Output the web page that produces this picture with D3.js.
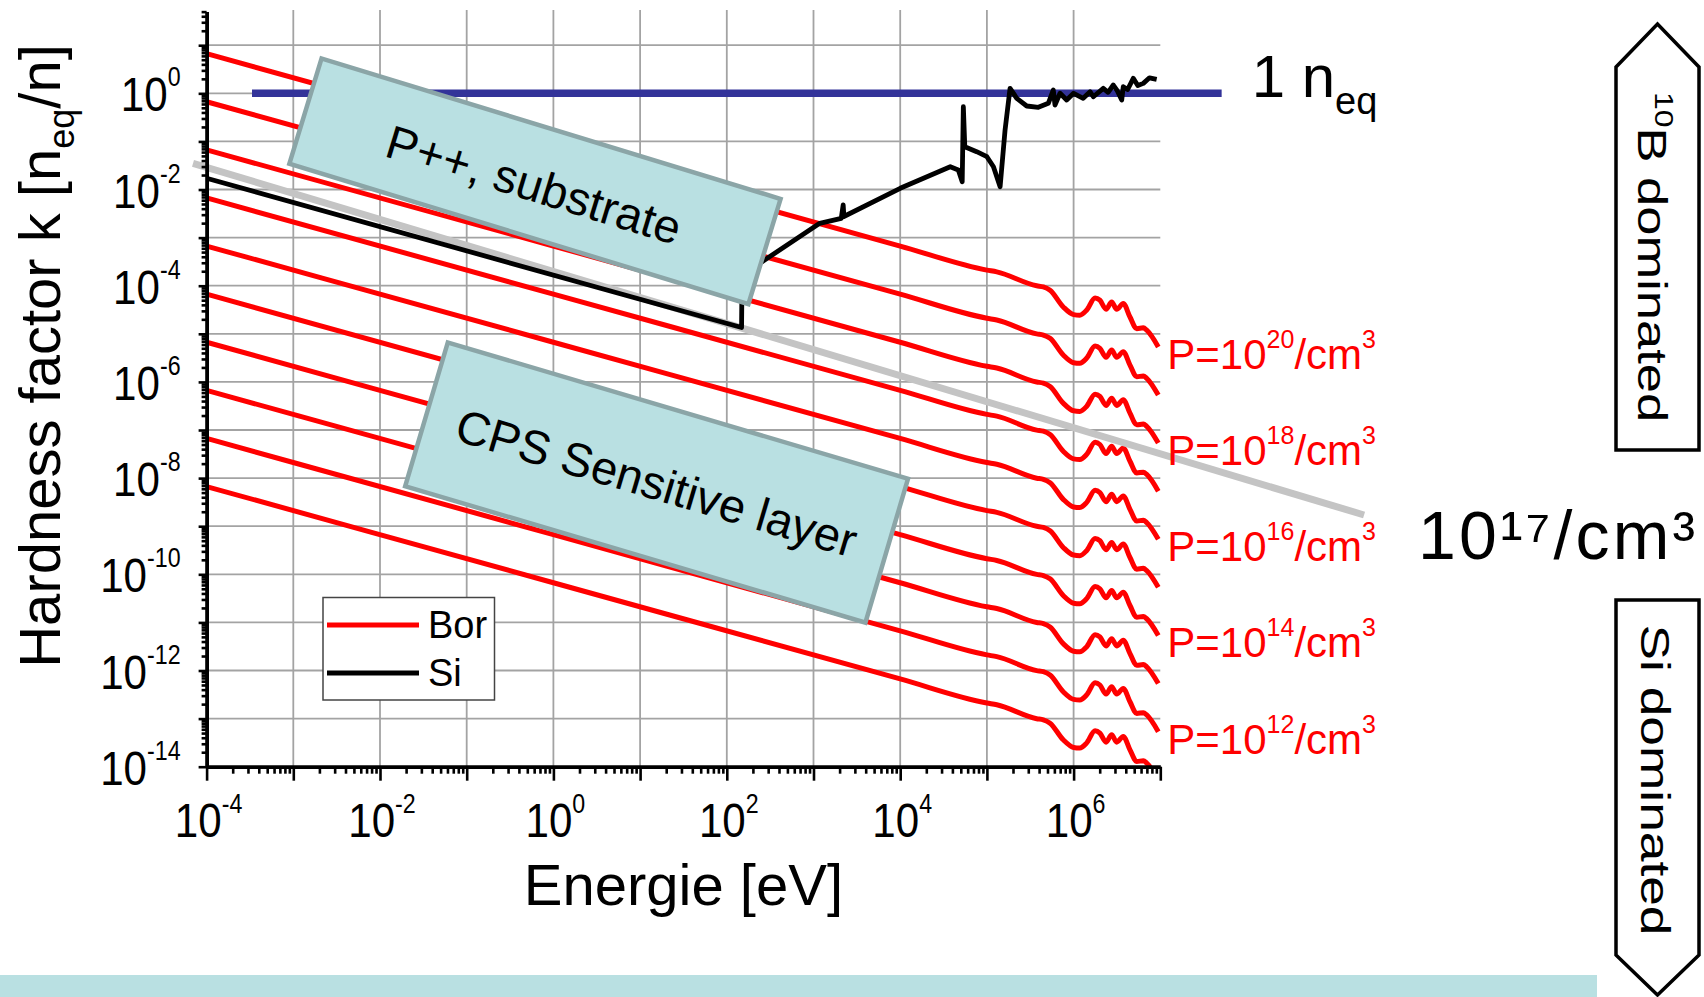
<!DOCTYPE html>
<html>
<head>
<meta charset="utf-8">
<script src="https://cdn.jsdelivr.net/npm/d3@7"></script>
<style>
  html, body { margin: 0; padding: 0; background: #fff; }
  svg { display: block; font-family: "Liberation Sans", Arial, Helvetica, sans-serif; }
</style>
</head>
<body>
<svg id="chart" width="1704" height="997"></svg>
<script>
// ---- data -------------------------------------------------------------
// Energy grid (eV) of the boron capture hardness-factor curve
const borEnergy = [1e-4, 1, 1e4, 1e5, 1.3e5, 3.75e5, 4.48e5, 5.35e5, 7.6e5, 1e6, 1.18e6,
  1.41e6, 1.77e6, 2.01e6, 2.37e6, 2.75e6, 3.14e6, 3.74e6, 4.47e6, 5.35e6, 6.37e6, 6.97e6, 9.48e6];
// Hardness factor k [n_eq/n] for a boron concentration of 1e20 /cm3
const borK20 = [6.68, 6.68e-2, 6.68e-4, 2.11e-4, 1.94e-4, 9.95e-5, 9.44e-5, 8.05e-5, 3.62e-5,
  2.51e-5, 2.44e-5, 3.09e-5, 5.57e-5, 5.0e-5, 3.24e-5, 4.6e-5, 3.24e-5, 4.25e-5, 2.24e-5,
  1.28e-5, 1.33e-5, 1.19e-5, 5.35e-6];
// Boron concentrations (/cm3); k scales linearly with the concentration
const borDoping = [1e20, 1e19, 1e18, 1e17, 1e16, 1e15, 1e14, 1e13, 1e12, 1e11];
const labelledDoping = [1e20, 1e18, 1e16, 1e14, 1e12];

// Silicon displacement hardness factor
const siEnergy = [1e-4, 148, 150, 273, 1.18e3, 2.09e3, 2.2e3, 2.24e3, 1e4, 3.78e4, 4.68e4,
  5.19e4, 5.35e4, 5.56e4, 7.62e4, 1.0e5, 1.19e5, 1.42e5, 1.62e5, 1.85e5, 2.21e5, 2.88e5,
  3.92e5, 5.11e5, 5.83e5, 6.1e5, 6.97e5, 8.32e5, 1e6, 1.29e6, 1.55e6, 1.69e6, 2.2e6,
  2.5e6, 2.87e6, 3.2e6, 3.59e6, 3.74e6, 4.2e6, 4.88e6, 5.5e6, 6.37e6, 7.5e6, 9.08e6];
const siK = [0.0171, 1.35e-5, 1.66e-4, 3.42e-4, 1.98e-3, 2.51e-3, 4.79e-3, 2.75e-3, 1.06e-2,
  2.98e-2, 2.54e-2, 1.45e-2, 0.526, 7.76e-2, 6.11e-2, 4.81e-2, 2.98e-2, 1.14e-2, 0.173,
  1.27, 0.787, 0.545, 0.512, 0.619, 1.17, 0.571, 1.0, 0.726, 1.0, 0.787, 1.08, 0.849,
  1.27, 1.05, 1.49, 1.12, 0.726, 1.37, 1.2, 2.05, 1.45, 1.61, 2.1, 1.95];

// Reference level of 1 n_eq
const neqLevel = 1;
const neqEnergy = [3.34e-4, 5.1e7];

// Boundary between boron- and silicon-dominated damage (10^17 /cm3)
const splitEnergy = [6.97e-5, 2.24e9];
const splitK = [0.0351, 1.71e-9];

// Axis tick exponents
const xTickExp = [-4, -2, 0, 2, 4, 6];
const yTickExp = [-14, -12, -10, -8, -6, -4, -2, 0];

// Region annotations placed at (energy, k)
const regionBoxes = [
  { text: "P++, substrate", E: 0.613, k: 0.0148, w: 480, h: 110, angle: 17, dy: 20 },
  { text: "CPS Sensitive layer", E: 15.5, k: 8.1e-9, w: 480, h: 150, angle: 16.5, dy: 17 }
];

// ---- layout -----------------------------------------------------------
const svg = d3.select("#chart");
const plotL = 206.6, plotR = 1160.3, plotT = 11.6, plotB = 766.7;
const font = '"Liberation Sans", Arial, Helvetica, sans-serif';

const x = d3.scaleLog().domain([1e-4, 1e7]).range([plotL, plotR]);
const y = d3.scaleLog().domain([1e-14, 50]).range([plotB, plotT]);

const RED = "#ff0000", GRID = "#a3a3a3";

// slide footer band
svg.append("rect").attr("x", 0).attr("y", 975).attr("width", 1597).attr("height", 22)
  .attr("fill", "#b9e0e2");

// ---- grid -------------------------------------------------------------
const gridX = d3.range(-3, 7).map(e => Math.pow(10, e));
const gridY = d3.range(-13, 2).map(e => Math.pow(10, e));
const grid = svg.append("g").attr("stroke", GRID).attr("stroke-width", 1.8);
grid.selectAll("line.gx").data(gridX).join("line").attr("class", "gx")
  .attr("x1", d => x(d)).attr("x2", d => x(d)).attr("y1", plotT - 1.5).attr("y2", plotB);
grid.selectAll("line.gy").data(gridY).join("line").attr("class", "gy")
  .attr("x1", plotL).attr("x2", plotR).attr("y1", d => y(d)).attr("y2", d => y(d));

// ---- curves -----------------------------------------------------------
svg.append("clipPath").attr("id", "plotClip").append("rect")
  .attr("x", plotL).attr("y", 0).attr("width", plotR - plotL + 2).attr("height", plotB);

const smooth = d3.line().x(d => x(d[0])).y(d => y(d[1])).curve(d3.curveMonotoneX);
const straight = d3.line().x(d => x(d[0])).y(d => y(d[1]));

const borSeries = borDoping.map(P => ({
  P,
  pts: borEnergy.map((E, i) => [E, borK20[i] * P / 1e20])
}));

svg.append("g").attr("clip-path", "url(#plotClip)")
  .selectAll("path").data(borSeries).join("path")
  .attr("d", d => smooth(d.pts))
  .attr("fill", "none").attr("stroke", RED).attr("stroke-width", 5)
  .attr("stroke-linejoin", "round");

// 10^17 boundary line
svg.append("path")
  .attr("d", straight(splitEnergy.map((E, i) => [E, splitK[i]])))
  .attr("stroke", "#c4c4c4").attr("stroke-width", 7).attr("fill", "none");

// 1 n_eq level
svg.append("path")
  .attr("d", straight(neqEnergy.map(E => [E, neqLevel])))
  .attr("stroke", "#333399").attr("stroke-width", 7.5).attr("fill", "none");

// silicon curve
svg.append("path")
  .attr("d", straight(siEnergy.map((E, i) => [E, siK[i]])))
  .attr("fill", "none").attr("stroke", "#000").attr("stroke-width", 4.8)
  .attr("stroke-linejoin", "round");

// ---- axes -------------------------------------------------------------
const yMajor = d3.range(-14, 2).map(e => Math.pow(10, e));
const yMinor = [];
d3.range(-14, 2).forEach(e => d3.range(2, 10).forEach(m => {
  const v = m * Math.pow(10, e); if (v <= 50) yMinor.push(v);
}));
const xMajor = d3.range(-4, 8).map(e => Math.pow(10, e));
const xMinor = [];
d3.range(-4, 7).forEach(e => d3.range(2, 10).forEach(m => xMinor.push(m * Math.pow(10, e))));

function styleAxis(g, keepDomain) {
  g.selectAll(".tick line").attr("stroke", "#000").attr("stroke-width", 2.6);
  if (keepDomain) g.select(".domain").attr("stroke", "#000").attr("stroke-width", 3.8);
  else g.select(".domain").remove();
}

const gyMinor = svg.append("g").attr("transform", `translate(${plotL},0)`)
  .call(d3.axisLeft(y).tickValues(yMinor).tickSize(5).tickFormat(""));
styleAxis(gyMinor, false);
const gxMinor = svg.append("g").attr("transform", `translate(0,${plotB})`)
  .call(d3.axisBottom(x).tickValues(xMinor).tickSize(7).tickFormat(""));
styleAxis(gxMinor, false);

const gy = svg.append("g").attr("transform", `translate(${plotL},0)`)
  .call(d3.axisLeft(y).tickValues(yMajor).tickSize(8).tickSizeOuter(0).tickFormat(""));
styleAxis(gy, true);
const gx = svg.append("g").attr("transform", `translate(0,${plotB})`)
  .call(d3.axisBottom(x).tickValues(xMajor).tickSize(14).tickSizeOuter(0).tickFormat(""));
styleAxis(gx, true);

// power-of-ten tick labels
function powerLabel(sel, exp, anchor, supShift) {
  const t = sel.append("text").attr("text-anchor", anchor).attr("fill", "#000")
    .attr("font-size", 49).attr("font-family", font);
  t.append("tspan").text("10");
  t.append("tspan").attr("font-size", 27).attr("dy", supShift).text(String(exp));
  return t;
}
yTickExp.forEach(e => {
  const g = svg.append("g").attr("transform", `translate(${plotL - 26},${y(Math.pow(10, e)) + 18}) scale(0.86,1)`);
  powerLabel(g, e, "end", -25);
});
xTickExp.forEach(e => {
  const g = svg.append("g").attr("transform", `translate(${x(Math.pow(10, e)) + 2},${plotB + 70}) scale(0.86,1)`);
  powerLabel(g, e, "middle", -24);
});

// axis titles
svg.append("text").attr("x", (plotL + plotR) / 2).attr("y", 905).attr("text-anchor", "middle")
  .attr("font-size", 58).text("Energie [eV]");

const yTitle = svg.append("text").attr("text-anchor", "middle").attr("font-size", 58)
  .attr("transform", "translate(60,356) rotate(-90)");
yTitle.append("tspan").text("Hardness factor k [n");
yTitle.append("tspan").attr("font-size", 36).attr("dy", 14).text("eq");
yTitle.append("tspan").attr("dy", -14).text("/n]");

// ---- concentration labels ---------------------------------------------
const lastK = borK20[borK20.length - 1];
labelledDoping.forEach(P => {
  const t = svg.append("text").attr("x", x(1e7) + 7).attr("y", y(lastK * P / 1e20) + 22)
    .attr("fill", RED).attr("font-size", 42);
  t.append("tspan").text("P=10");
  t.append("tspan").attr("font-size", 25).attr("dy", -21).text(String(Math.round(Math.log10(P))));
  t.append("tspan").attr("dy", 21).text("/cm");
  t.append("tspan").attr("font-size", 25).attr("dy", -21).text("3");
});

// ---- annotation boxes --------------------------------------------------
regionBoxes.forEach(b => {
  const g = svg.append("g")
    .attr("transform", `translate(${x(b.E)},${y(b.k)}) rotate(${b.angle})`);
  g.append("rect").attr("x", -b.w / 2).attr("y", -b.h / 2).attr("width", b.w).attr("height", b.h)
    .attr("fill", "#b9e0e2").attr("stroke", "#8ba5a7").attr("stroke-width", 4.5);
  g.append("text").attr("text-anchor", "middle").attr("y", b.dy).attr("font-size", 47)
    .attr("fill", "#000").text(b.text);
});

// ---- legend -------------------------------------------------------------
const lg = svg.append("g").attr("transform", "translate(323,597.5)");
lg.append("rect").attr("width", 171.5).attr("height", 102.5)
  .attr("fill", "#fff").attr("stroke", "#444").attr("stroke-width", 1.5);
[{ name: "Bor", color: RED, yy: 27.5 }, { name: "Si", color: "#000", yy: 75.5 }].forEach(it => {
  lg.append("line").attr("x1", 4).attr("x2", 96).attr("y1", it.yy).attr("y2", it.yy)
    .attr("stroke", it.color).attr("stroke-width", 5);
  lg.append("text").attr("x", 105).attr("y", it.yy + 12.5).attr("font-size", 38).text(it.name);
});

// ---- side annotations ---------------------------------------------------
const nl = svg.append("text").attr("x", x(neqEnergy[1]) + 30).attr("y", y(neqLevel) + 3.4)
  .attr("font-size", 60);
nl.append("tspan").text("1 n");
nl.append("tspan").attr("font-size", 38).attr("dy", 17).text("eq");

svg.append("text").attr("x", x(splitEnergy[1]) + 54).attr("y", y(splitK[1]) + 44)
  .attr("font-size", 68).attr("textLength", 277).attr("lengthAdjust", "spacing")
  .text("10¹⁷/cm³");

// dominance arrows
const arrowStyle = s => s.attr("fill", "#fff").attr("stroke", "#000").attr("stroke-width", 3.5)
  .attr("stroke-linejoin", "miter");
svg.append("path").attr("d", "M1616,450 L1616,67 L1657.5,24 L1699,67 L1699,450 Z").call(arrowStyle);
svg.append("path").attr("d", "M1616,600 L1699,600 L1699,955 L1657.5,995 L1616,955 Z").call(arrowStyle);

const tb = svg.append("text").attr("text-anchor", "middle").attr("font-size", 41)
  .attr("transform", "translate(1638,257) rotate(90) scale(1.28,1)");
tb.append("tspan").attr("font-size", 25).attr("dy", -17).text("10");
tb.append("tspan").attr("dy", 17).text("B dominated");

svg.append("text").attr("text-anchor", "middle").attr("font-size", 41)
  .attr("transform", "translate(1641,780) rotate(90) scale(1.3,1)")
  .text("Si dominated");
</script>
</body>
</html>
